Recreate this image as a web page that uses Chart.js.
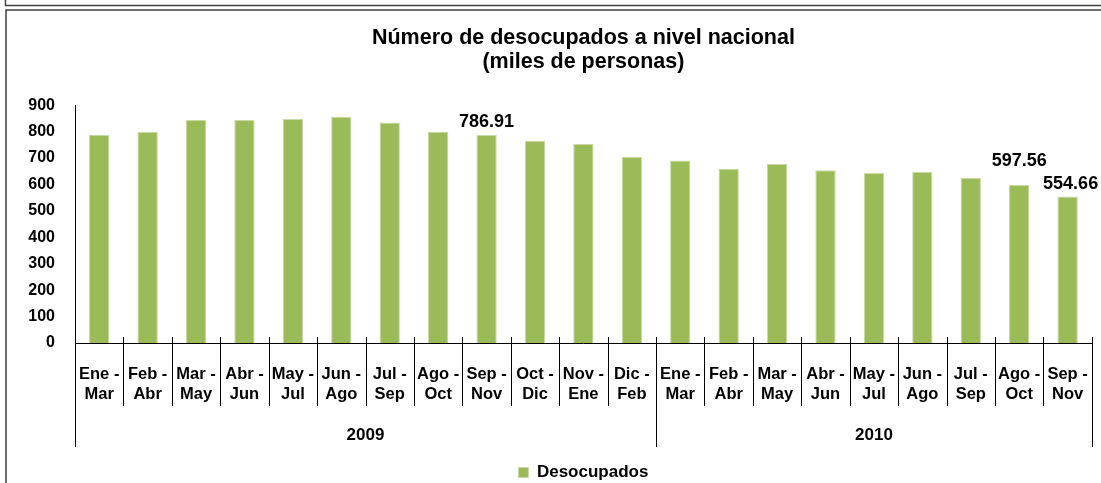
<!DOCTYPE html>
<html>
<head>
<meta charset="utf-8">
<script src="https://cdn.jsdelivr.net/npm/chart.js@4.4.1/dist/chart.umd.min.js"></script>
<style>
  html, body { margin: 0; padding: 0; background: #ffffff; }
  #wrap { position: relative; width: 1101px; height: 483px; }
</style>
</head>
<body>
<div id="wrap"><canvas id="c" width="1101" height="483"></canvas></div>
<script>
// ---- data ----
const periodStart = ['Ene','Feb','Mar','Abr','May','Jun','Jul','Ago','Sep','Oct','Nov','Dic','Ene','Feb','Mar','Abr','May','Jun','Jul','Ago','Sep'];
const periodEnd   = ['Mar','Abr','May','Jun','Jul','Ago','Sep','Oct','Nov','Dic','Ene','Feb','Mar','Abr','May','Jun','Jul','Ago','Sep','Oct','Nov'];
const desocupados = [788, 799, 844, 844, 848, 856, 834, 799, 786.91, 765, 753, 704, 691, 659, 677, 654, 643, 647, 624, 597.56, 554.66];
const years = ['2009', '2010'];
const yearCounts = [12, 9];
const labelledIndices = [8, 19, 20];
const yTicks = [0, 100, 200, 300, 400, 500, 600, 700, 800, 900];
const seriesName = 'Desocupados';
const titleLines = ['Número de desocupados a nivel nacional', '(miles de personas)'];

const categories = periodStart.map((s, i) => [s + ' -', periodEnd[i]]);

const FONT = "'Liberation Sans', Arial, sans-serif";

const extrasPlugin = {
  id: 'extras',
  beforeDraw(chart) {
    const ctx = chart.ctx;
    ctx.save();
    ctx.fillStyle = '#ffffff';
    ctx.fillRect(0, 0, chart.width, chart.height);
    ctx.strokeStyle = '#404040';
    ctx.lineWidth = 1.5;
    ctx.beginPath();
    ctx.moveTo(5.5, -5); ctx.lineTo(5.5, 5.5); ctx.lineTo(1200, 5.5);
    ctx.stroke();
    ctx.beginPath();
    ctx.moveTo(6, 600); ctx.lineTo(6, 10); ctx.lineTo(1200, 10);
    ctx.stroke();
    ctx.restore();
  },
  afterDraw(chart, args, opts) {
    const ctx = chart.ctx;
    const x = chart.scales.x;
    const y = chart.scales.y;
    const n = categories.length;
    const cw = (x.right - x.left) / n;
    const bottom = y.getPixelForValue(0);
    ctx.save();
    ctx.strokeStyle = '#000000';
    ctx.lineWidth = 1;
    let groupEdges = [0];
    let acc = 0;
    yearCounts.forEach(c => { acc += c; groupEdges.push(acc); });
    for (let k = 0; k <= n; k++) {
      const px = Math.round(x.getPixelForValue(Math.min(k, n - 1)) + (k === n ? cw / 2 : -cw / 2)) + 0.5;
      ctx.beginPath();
      if (groupEdges.includes(k)) {
        ctx.moveTo(px, bottom - 6);
        ctx.lineTo(px, bottom + 104);
      } else {
        ctx.moveTo(px, bottom - 6);
        ctx.lineTo(px, bottom + 63);
      }
      ctx.stroke();
    }
    ctx.fillStyle = '#000000';
    ctx.font = 'bold 17px ' + FONT;
    ctx.textAlign = 'center';
    ctx.textBaseline = 'middle';
    years.forEach((yr, i) => {
      const a = groupEdges[i], b = groupEdges[i + 1] - 1;
      const cx = (x.getPixelForValue(a) + x.getPixelForValue(b)) / 2;
      ctx.fillText(yr, cx, bottom + 92);
    });
    ctx.font = 'bold 18px ' + FONT;
    labelledIndices.forEach((idx, j) => {
      const off = opts.offsets[j];
      const px = x.getPixelForValue(idx) + off[0];
      const py = y.getPixelForValue(desocupados[idx]) - off[1];
      ctx.fillText(desocupados[idx].toFixed(2), px, py);
    });
    ctx.restore();
  }
};

new Chart(document.getElementById('c'), {
  type: 'bar',
  data: {
    labels: categories,
    datasets: [{
      label: seriesName,
      data: desocupados,
      backgroundColor: '#9BBB59',
      borderColor: '#C9DAA6',
      borderWidth: 1,
      barPercentage: 0.42,
      categoryPercentage: 1.0
    }]
  },
  options: {
    responsive: false,
    animation: false,
    devicePixelRatio: 1,
    layout: { padding: { left: 0, right: 6, top: 0, bottom: -8 } },
    plugins: {
      extras: { offsets: [[0, 13], [0, 24], [3, 12]] },
      tooltip: { enabled: false },
      title: {
        display: true,
        fullSize: false,
        text: titleLines,
        color: '#000000',
        font: { family: FONT, size: 21.5, weight: 'bold', lineHeight: 1.12 },
        padding: { top: 26, bottom: 31 }
      },
      legend: {
        display: true,
        position: 'bottom',
        fullSize: false,
        labels: {
          color: '#000000',
          font: { family: FONT, size: 17, weight: 'bold' },
          boxWidth: 10,
          boxHeight: 10,
          padding: 0,
          useBorderRadius: false
        }
      }
    },
    scales: {
      x: {
        grid: { display: false },
        border: { display: true, color: '#000000', width: 1 },
        ticks: {
          color: '#000000',
          font: { family: FONT, size: 16.5, weight: 'bold', lineHeight: 1.22 },
          maxRotation: 0,
          minRotation: 0,
          autoSkip: false,
          padding: 13
        },
        afterFit(scale) { scale.height = 121; }
      },
      y: {
        min: 0,
        max: 900,
        grid: { display: false },
        border: { display: true, color: '#000000', width: 1 },
        afterBuildTicks(scale) { scale.ticks = yTicks.map(v => ({ value: v })); },
        ticks: {
          color: '#000000',
          font: { family: FONT, size: 16, weight: 'bold' },
          padding: 12
        },
        afterFit(scale) { scale.width = 75; }
      }
    }
  },
  plugins: [extrasPlugin]
});
</script>
</body>
</html>
